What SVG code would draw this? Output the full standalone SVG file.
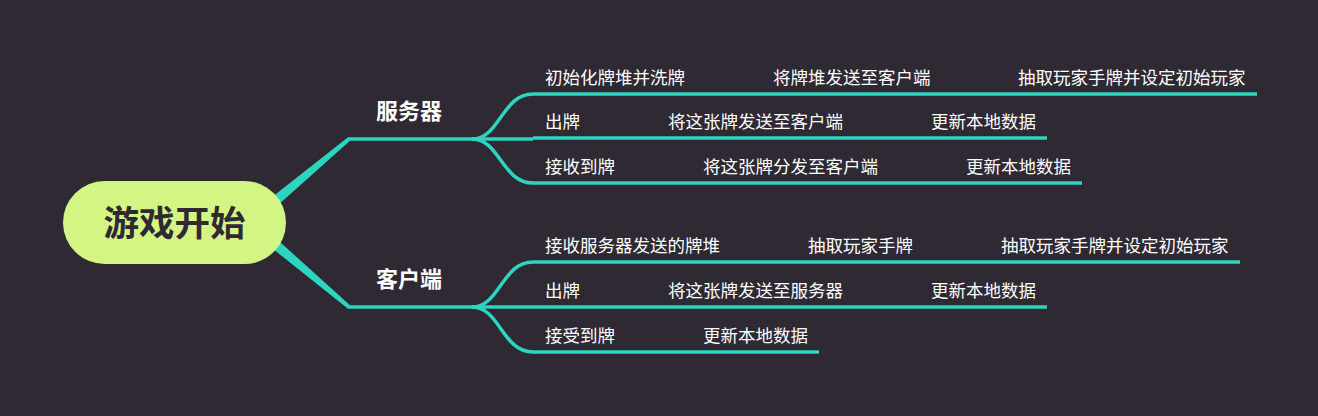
<svg xmlns="http://www.w3.org/2000/svg" width="1318" height="416" viewBox="0 0 1318 416">
<style>
.bg{fill:#2e2933}
.ln{fill:none;stroke:#2dd4bf;stroke-width:3.5;stroke-linecap:butt}
.tp{fill:#2dd4bf}
.t{font-family:"Noto Sans CJK SC","Noto Sans",sans-serif;font-size:17.5px;fill:#ffffff}
.b{font-family:"Noto Sans CJK SC","Noto Sans",sans-serif;font-size:22px;font-weight:bold;fill:#ffffff;text-anchor:middle}
.r{font-family:"Noto Sans CJK SC","Noto Sans",sans-serif;font-size:35.5px;font-weight:bold;fill:#2e2933;text-anchor:middle}
</style>
<rect class="bg" x="0" y="0" width="1318" height="416"/>
<g id="connectors">
<polygon class="tp" points="246.1,217.4 253.9,226.6 350,140.7 348,137.3"/>
<polygon class="tp" points="253.9,218.4 246.1,227.6 348,308.7 350,305.3"/>
<path class="ln" d="M348,139 H474"/>
<path class="ln" d="M348,307 H474"/>
<path class="ln" d="M472,139 C500,139 502,94 533,94"/>
<path class="ln" d="M472,139 H533"/>
<path class="ln" d="M472,139 C500,139 502,183 533,183"/>
<path class="ln" d="M472,307 C500,307 502,262 533,262"/>
<path class="ln" d="M472,307 H533"/>
<path class="ln" d="M472,307 C500,307 502,352 533,352"/>
<path class="ln" d="M697,94 H761 M942,94 H1006"/>
<path class="ln" d="M592,138 H656 M855,138 H919"/>
<path class="ln" d="M627,183 H691 M890,183 H954"/>
<path class="ln" d="M732,262 H796 M925,262 H989"/>
<path class="ln" d="M592,307 H656 M855,307 H919"/>
<path class="ln" d="M627,352 H691"/>
</g>
<g id="root">
<rect x="63" y="181" width="223" height="83" rx="41.5" fill="#d3f584"/>
<text class="r" x="174.5" y="235.5">游戏开始</text>
</g>
<g id="server">
<text class="b" x="409" y="118.5">服务器</text>
</g>
<g id="client">
<text class="b" x="409" y="286.5">客户端</text>
</g>
<g id="s1a"><path class="ln" d="M533,94 H697"/><text class="t" x="545" y="84">初始化牌堆并洗牌</text></g>
<g id="s1b"><path class="ln" d="M761,94 H942"/><text class="t" x="773" y="84">将牌堆发送至客户端</text></g>
<g id="s1c"><path class="ln" d="M1006,94 H1257"/><text class="t" x="1018" y="84">抽取玩家手牌并设定初始玩家</text></g>
<g id="s2a"><path class="ln" d="M533,138 H592"/><text class="t" x="545" y="128">出牌</text></g>
<g id="s2b"><path class="ln" d="M656,138 H855"/><text class="t" x="668" y="128">将这张牌发送至客户端</text></g>
<g id="s2c"><path class="ln" d="M919,138 H1047"/><text class="t" x="931" y="128">更新本地数据</text></g>
<g id="s3a"><path class="ln" d="M533,183 H627"/><text class="t" x="545" y="173">接收到牌</text></g>
<g id="s3b"><path class="ln" d="M691,183 H890"/><text class="t" x="703" y="173">将这张牌分发至客户端</text></g>
<g id="s3c"><path class="ln" d="M954,183 H1082"/><text class="t" x="966" y="173">更新本地数据</text></g>
<g id="c1a"><path class="ln" d="M533,262 H732"/><text class="t" x="545" y="252">接收服务器发送的牌堆</text></g>
<g id="c1b"><path class="ln" d="M796,262 H925"/><text class="t" x="808" y="252">抽取玩家手牌</text></g>
<g id="c1c"><path class="ln" d="M989,262 H1240"/><text class="t" x="1001" y="252">抽取玩家手牌并设定初始玩家</text></g>
<g id="c2a"><path class="ln" d="M533,307 H592"/><text class="t" x="545" y="297">出牌</text></g>
<g id="c2b"><path class="ln" d="M656,307 H855"/><text class="t" x="668" y="297">将这张牌发送至服务器</text></g>
<g id="c2c"><path class="ln" d="M919,307 H1047"/><text class="t" x="931" y="297">更新本地数据</text></g>
<g id="c3a"><path class="ln" d="M533,352 H627"/><text class="t" x="545" y="342">接受到牌</text></g>
<g id="c3b"><path class="ln" d="M691,352 H819"/><text class="t" x="703" y="342">更新本地数据</text></g>
</svg>
